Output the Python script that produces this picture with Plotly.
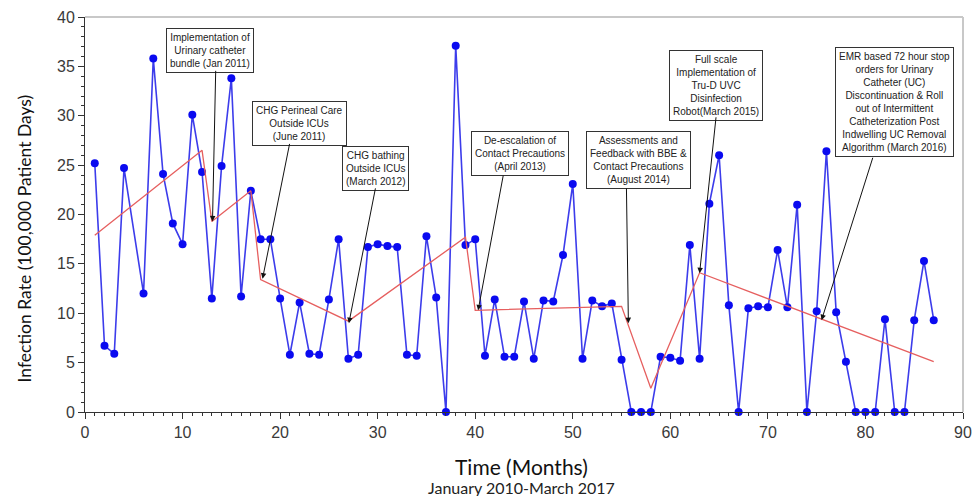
import plotly.graph_objects as go

# Monthly infection rate (month 5 has no plotted point)
months = [1, 2, 3, 4, 6, 7, 8, 9, 10, 11, 12, 13, 14, 15, 16, 17, 18, 19, 20,
          21, 22, 23, 24, 25, 26, 27, 28, 29, 30, 31, 32, 33, 34, 35, 36, 37, 38,
          39, 40, 41, 42, 43, 44, 45, 46, 47, 48, 49, 50, 51, 52, 53, 54, 55, 56,
          57, 58, 59, 60, 61, 62, 63, 64, 65, 66, 67, 68, 69, 70, 71, 72, 73, 74,
          75, 76, 77, 78, 79, 80, 81, 82, 83, 84, 85, 86, 87]
rates = [25.2, 6.7, 5.9, 24.7, 12.0, 35.8, 24.1, 19.1, 17.0, 30.1, 24.3, 11.5,
         24.9, 33.8, 11.7, 22.4, 17.5, 17.5, 11.5, 5.8, 11.1, 5.9, 5.8, 11.4,
         17.5, 5.4, 5.8, 16.7, 17.0, 16.8, 16.7, 5.8, 5.7, 17.8, 11.6, 0.0, 37.1,
         16.9, 17.5, 5.7, 11.4, 5.6, 5.6, 11.2, 5.4, 11.3, 11.2, 15.9, 23.1, 5.4,
         11.3, 10.7, 11.0, 5.3, 0.0, 0.0, 0.0, 5.6, 5.5, 5.2, 16.9, 5.4, 21.1,
         26.0, 10.8, 0.0, 10.5, 10.7, 10.6, 16.4, 10.6, 21.0, 0.0, 10.2, 26.4,
         10.1, 5.1, 0.0, 0.0, 0.0, 9.4, 0.0, 0.0, 9.3, 15.3, 9.3]

# Segmented regression trend
trend_months = [1, 12, 13, 17, 18, 27, 39, 40, 55, 58, 63, 87]
trend_values = [17.9, 26.5, 19.3, 22.4, 13.4, 9.2, 17.7, 10.3, 10.7, 2.4, 14.1, 5.1]

x_ticks = [0, 10, 20, 30, 40, 50, 60, 70, 80, 90]
y_ticks = [0, 5, 10, 15, 20, 25, 30, 35, 40]

x_title = "Time (Months)"
x_subtitle = "January 2010-March 2017"
y_title = "Infection Rate (100,000 Patient Days)"

# Intervention annotations: text, box centre, arrow start, arrow tip
interventions = [
    ("Implementation of<br>Urinary catheter<br>bundle (Jan 2011)", 12.8, 36.6, 13.4, 34.7, 13.07, 19.3),
    ("CHG Perineal Care<br>Outside ICUs<br>(June 2011)", 22.0, 29.2, 21.0, 27.3, 18.2, 13.5),
    ("CHG bathing<br>Outside ICUs<br>(March 2012)", 29.8, 24.65, 29.8, 22.8, 27.05, 9.0),
    ("De-escalation of<br>Contact Precautions<br>(April 2013)", 44.6, 26.2, 42.9, 24.1, 40.3, 10.3),
    ("Assessments and<br>Feedback with BBE &amp;<br>Contact Precautions<br>(August 2014)", 56.7, 25.5, 55.5, 22.8, 55.7, 9.0),
    ("Full scale<br>Implementation of<br>Tru-D UVC<br>Disinfection<br>Robot(March 2015)", 64.7, 33.1, 64.7, 30.0, 63.0, 14.05),
    ("EMR based 72 hour stop<br>orders for Urinary<br>Catheter (UC)<br>Discontinuation &amp; Roll<br>out of Intermittent<br>Catheterization Post<br>Indwelling UC Removal<br>Algorithm (March 2016)", 83.0, 31.4, 80.8, 25.9, 75.5, 9.3),
]

ann_font = dict(family="Liberation Sans Narrow, Liberation Sans, Arial", size=10, color="#222")
title_font = "Lato, Open Sans, Liberation Sans, Arial"
tick_font = dict(family="Liberation Sans, Arial", size=16, color="#3a3a3a")

fig = go.Figure()
fig.add_trace(go.Scatter(
    x=months, y=rates, mode="lines+markers",
    line=dict(color="rgb(60,60,235)", width=1.6),
    marker=dict(color="rgb(10,10,240)", size=8, line=dict(width=0)),
    showlegend=False, cliponaxis=False,
))
fig.add_trace(go.Scatter(
    x=trend_months, y=trend_values, mode="lines",
    line=dict(color="rgb(230,95,95)", width=1.3),
    showlegend=False,
))

annotations = []
for text, bx, by, sx, sy, tx, ty in interventions:
    annotations.append(dict(
        x=bx, y=by, xref="x", yref="y", text=text, showarrow=False,
        font=ann_font, align="center", bgcolor="white",
        bordercolor="#333", borderwidth=1, borderpad=3,
        xanchor="center", yanchor="middle",
    ))
    annotations.append(dict(
        x=tx, y=ty, xref="x", yref="y", ax=sx, ay=sy, axref="x", ayref="y",
        text="", showarrow=True, arrowhead=2, arrowsize=1.1, arrowwidth=1,
        arrowcolor="#111", standoff=0, startstandoff=0,
    ))

annotations += [
    dict(x=0.5, y=0, xref="paper", yref="paper", text=x_title, showarrow=False,
         font=dict(family=title_font, size=21, color="#111"),
         xanchor="center", yanchor="middle", yshift=-54, xshift=-3),
    dict(x=0.5, y=0, xref="paper", yref="paper", text=x_subtitle, showarrow=False,
         font=dict(family=title_font, size=16, color="#222"),
         xanchor="center", yanchor="middle", yshift=-75, xshift=-3),
    dict(x=0, y=0.5, xref="paper", yref="paper", text=y_title, showarrow=False,
         font=dict(family=title_font, size=17.5, color="#111"), textangle=-90,
         xanchor="center", yanchor="middle", xshift=-61, yshift=-24),
]

fig.update_layout(
    width=972, height=496,
    margin=dict(l=85, r=9, t=17, b=84, autoexpand=False),
    paper_bgcolor="white", plot_bgcolor="white",
    annotations=annotations,
    xaxis=dict(
        range=[0, 90], tickvals=x_ticks, ticktext=[str(v) for v in x_ticks],
        showgrid=False, zeroline=False, showline=True, linecolor="#333", linewidth=1,
        ticks="outside", ticklen=6, tickcolor="#333", automargin=False,
        minor=dict(dtick=1, ticks="outside", ticklen=3, tickcolor="#333"),
        tickfont=tick_font, ticklabeloverflow="allow",
    ),
    yaxis=dict(
        range=[0, 40], tickvals=y_ticks, ticktext=[str(v) for v in y_ticks],
        showgrid=False, zeroline=False, showline=True, linecolor="#333", linewidth=1,
        ticks="outside", ticklen=6, tickcolor="#333", automargin=False,
        minor=dict(dtick=1, ticks="outside", ticklen=3, tickcolor="#333"),
        tickfont=tick_font, ticklabeloverflow="allow",
    ),
    shapes=[
        dict(type="line", xref="paper", yref="paper", x0=0, x1=1, y0=1, y1=1,
             line=dict(color="#c8c8c8", width=2)),
        dict(type="line", xref="paper", yref="paper", x0=1, x1=1, y0=0, y1=1,
             line=dict(color="#c8c8c8", width=2)),
    ],
)

# remove the default 8px page margin so the figure fills the window exactly
fig.write_html(
    "out.html",
    config={"displayModeBar": False},
    post_script="document.body.style.margin='0px';document.body.style.overflow='hidden';",
)
